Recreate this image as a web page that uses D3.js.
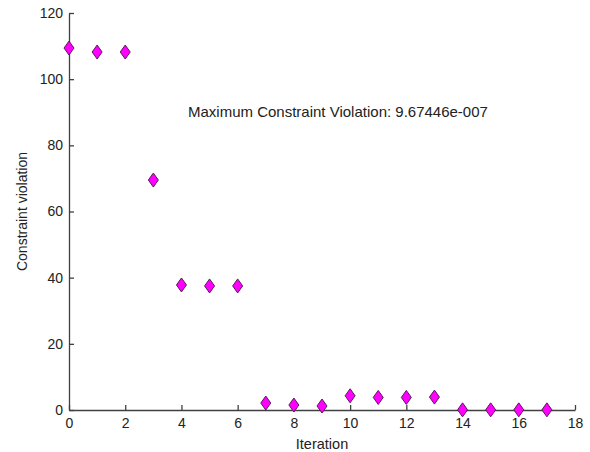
<!DOCTYPE html>
<html>
<head>
<meta charset="utf-8">
<script src="https://cdn.jsdelivr.net/npm/d3@7"></script>
<style>
  body { margin: 0; background: #fff; }
  text { font-family: "Liberation Sans", Arial, sans-serif; }
</style>
</head>
<body>
<script>
// values
const iterations = [0, 1, 2, 3, 4, 5, 6, 7, 8, 9, 10, 11, 12, 13, 14, 15, 16, 17];
const violation = [109.4, 108.2, 108.2, 69.5, 37.8, 37.5, 37.5, 2.1, 1.5, 1.2, 4.3, 3.8, 3.8, 3.9, 0.05, 0.05, 0.05, 0.05];
const xTicks = [0, 2, 4, 6, 8, 10, 12, 14, 16, 18];
const yTicks = [0, 20, 40, 60, 80, 100, 120];
const note = "Maximum Constraint Violation: 9.67446e-007";

const width = 590, height = 452;
const svg = d3.select("body").append("svg")
    .attr("width", width)
    .attr("height", height);

const x = d3.scaleLinear().domain([0, 18]).range([69, 575]);
const y = d3.scaleLinear().domain([0, 120]).range([410, 13]);

const axisColor = "#404040";

// x axis, ticks pointing inward
const gx = svg.append("g")
    .attr("transform", `translate(0,${y(0)})`)
    .call(d3.axisBottom(x).tickValues(xTicks).tickSizeInner(-5).tickSizeOuter(0).tickPadding(8));
// y axis
const gy = svg.append("g")
    .attr("transform", `translate(${x(0)},0)`)
    .call(d3.axisLeft(y).tickValues(yTicks).tickSizeInner(-5).tickSizeOuter(0).tickPadding(6));

[gx, gy].forEach(g => {
  g.select(".domain").attr("stroke", axisColor).attr("stroke-width", 1.3);
  g.selectAll(".tick line").attr("stroke", axisColor).attr("stroke-width", 1.3);
  g.selectAll(".tick text").attr("fill", "#222").attr("font-size", 14)
    .attr("font-family", "'Liberation Sans', Arial, sans-serif");
});

// axis labels
svg.append("text")
    .attr("x", (x(0) + x(18)) / 2)
    .attr("y", 449)
    .attr("text-anchor", "middle")
    .attr("font-size", 14.5)
    .attr("fill", "#222")
    .text("Iteration");

svg.append("text")
    .attr("transform", `translate(27,${(y(0) + y(120)) / 2}) rotate(-90)`)
    .attr("text-anchor", "middle")
    .attr("font-size", 14)
    .attr("fill", "#222")
    .text("Constraint violation");

// annotation
svg.append("text")
    .attr("x", 188)
    .attr("y", 117)
    .attr("font-size", 15)
    .attr("fill", "#222")
    .text(note);

// diamond markers
const diamond = "M0,-7 L5,0 L0,7 L-5,0 Z";
svg.append("g")
  .selectAll("path")
  .data(iterations.map((d, i) => [d, violation[i]]))
  .join("path")
    .attr("d", diamond)
    .attr("transform", d => `translate(${x(d[0])},${y(d[1])})`)
    .attr("fill", "#ff00ff")
    .attr("stroke", "#5a1a5a")
    .attr("stroke-width", 1);
</script>
</body>
</html>
